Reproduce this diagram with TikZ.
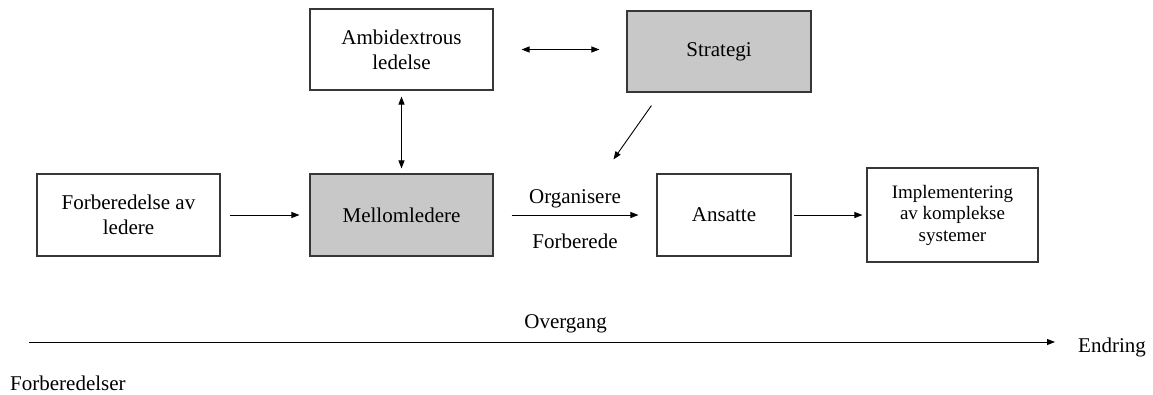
\documentclass[tikz,border=0pt]{standalone}
\usepackage{fontspec}
\setmainfont{Liberation Serif}
\usetikzlibrary{arrows.meta}
\definecolor{boxgray}{RGB}{200,200,200}
\definecolor{boxline}{RGB}{55,55,55}
\begin{document}
\begin{tikzpicture}[x=1pt,y=-1pt,
  box/.style={draw=boxline, line width=1.1pt, align=center, inner sep=0pt,
              font=\fontsize{21}{25}\selectfont},
  graybox/.style={box, fill=boxgray},
  arr/.style={line width=0.9pt, -{Triangle[length=8pt,width=6pt]}},
  darr/.style={line width=0.9pt, {Triangle[length=8pt,width=6pt]}-{Triangle[length=8pt,width=6pt]}},
  lbl/.style={inner sep=0pt, font=\fontsize{21}{25}\selectfont}
]
\useasboundingbox (0,0) rectangle (1153,394);

\node[box, minimum width=183pt, minimum height=82pt] (forb) at (128.5,215) {Forberedelse av\\ledere};
\node[graybox, minimum width=183pt, minimum height=82pt] (mellom) at (401.5,215) {Mellomledere};
\node[box, minimum width=183pt, minimum height=81pt] (ambi) at (401.5,49.5) {Ambidextrous\\ledelse};
\node[graybox, minimum width=184pt, minimum height=81pt] (strat) at (719,51.5) {Strategi};
\node[box, minimum width=134pt, minimum height=82pt] (ans) at (724,215) {Ansatte};
\node[box, minimum width=171pt, minimum height=94pt, font=\fontsize{19}{21.5}\selectfont] (impl) at (952.5,215) {Implementering\\av komplekse\\systemer};

\draw[arr] ([xshift=9pt]forb.east) -- ([xshift=-10pt]mellom.west);
\draw[darr] ([yshift=-6pt]ambi.south) -- ([yshift=5pt]mellom.north);
\draw[darr] ([xshift=28pt]ambi.east) -- ([xshift=-27pt]strat.west |- ambi.east);
\draw[arr] ([shift={(25pt,-13pt)}]strat.south west) -- ([shift={(-43pt,14pt)}]ans.north west);
\draw[arr] ([xshift=18pt]mellom.east) -- ([xshift=-18pt]ans.west)
  node[lbl, midway, above=7pt] (org) {Organisere}
  node[lbl, midway, below=18pt] (fbd) {Forberede};
\draw[arr] ([xshift=2pt]ans.east) -- ([xshift=-4pt]impl.west |- ans.east);

\coordinate (tl) at (29,342);
\node[lbl, anchor=base west] (endr) at (1078,352) {Endring};
\draw[arr] (tl) -- ([xshift=-23pt]endr.west |- tl)
  node[lbl, pos=0.523, above=8.5pt] (overg) {Overgang};
\node[lbl, anchor=base west] (forbs) at (10,390) {Forberedelser};
\end{tikzpicture}
\end{document}
